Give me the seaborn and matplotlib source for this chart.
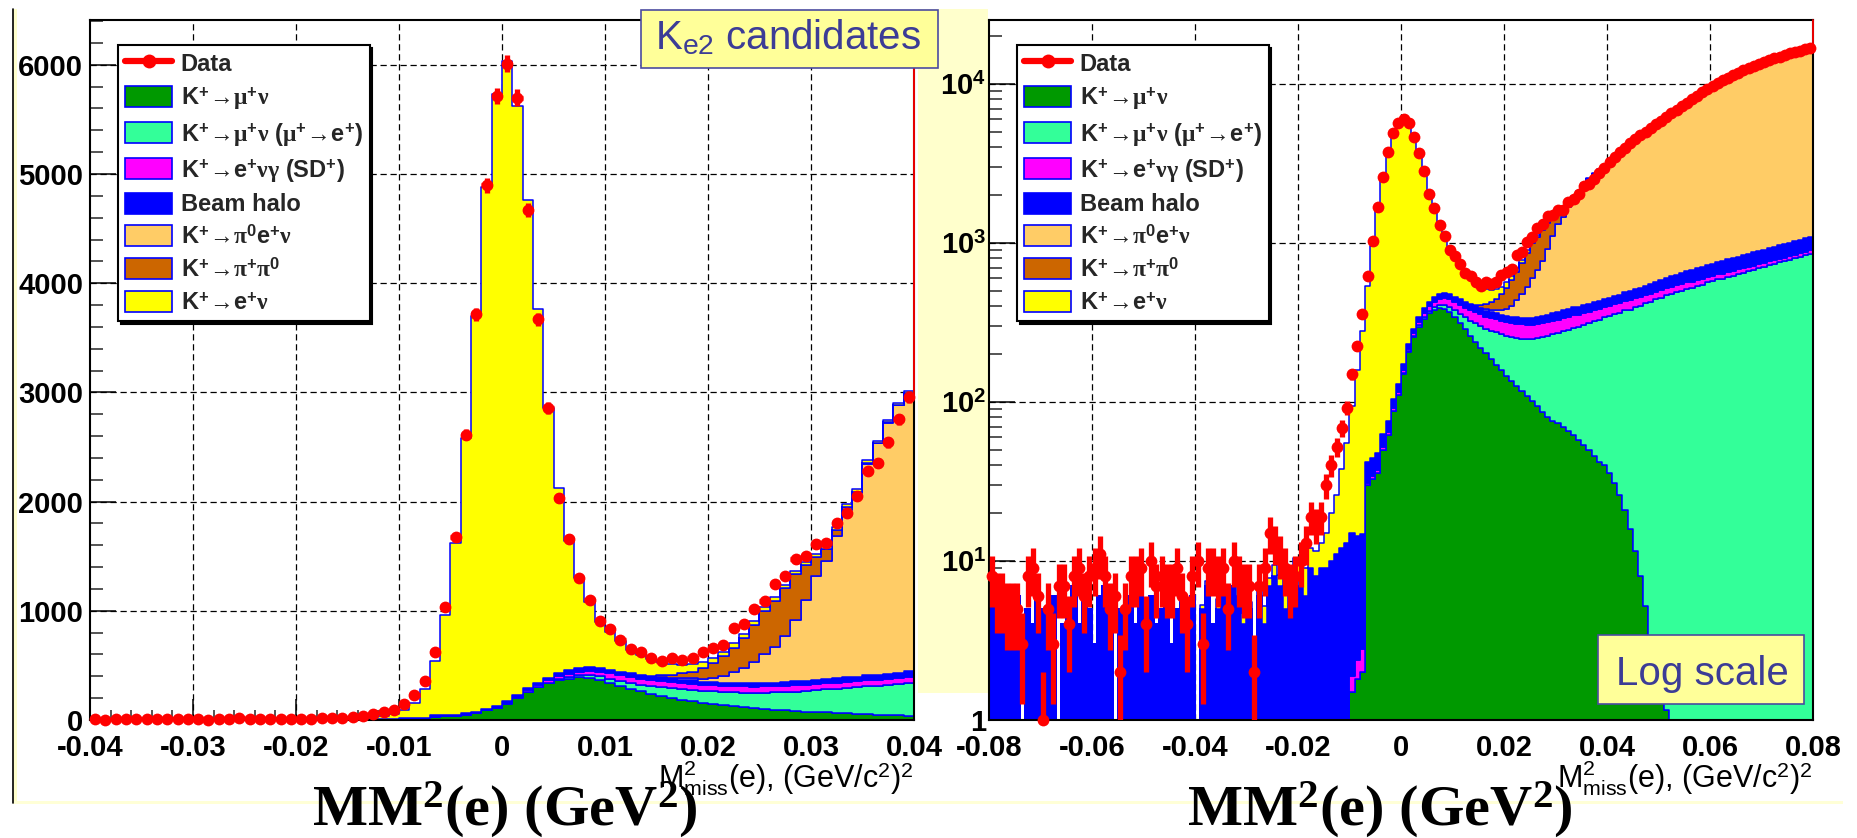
import numpy as np
import pandas as pd
import matplotlib
matplotlib.use("Agg")
import matplotlib.pyplot as plt
from matplotlib.patches import Rectangle, Patch
from matplotlib.lines import Line2D
from matplotlib.ticker import MultipleLocator, LogLocator, FuncFormatter, NullFormatter
import seaborn as sns

# ---------------- binning of the missing-mass spectrum ----------------
MM2_LOW, MM2_HIGH, BIN_WIDTH = -0.08, 0.08, 0.001

# ---------------- observed events per bin ----------------
DATA = [8, 6, 6, 5, 5, 5, 3, 8, 9, 6,
        1, 5, 3, 7, 7, 4, 8, 9, 6, 8,
        9, 11, 8, 5, 6, 2, 5, 8, 8, 9,
        4, 10, 7, 8, 7, 7, 9, 6, 4, 8,
        10, 3, 9, 9, 8, 9, 5, 10, 8, 7,
        7, 2, 7, 9, 15, 13, 11, 9, 7, 8,
        10, 13, 19, 17, 19, 30, 40, 52, 69, 92,
        150, 225, 360, 625, 1035, 1675, 2614, 3715, 4896, 5716,
        6010, 5700, 4670, 3670, 2860, 2030, 1660, 1300, 1100, 910,
        830, 735, 648, 620, 570, 540, 565, 550, 565, 626,
        657, 690, 843, 875, 1020, 1090, 1245, 1315, 1470, 1502,
        1616, 1620, 1802, 1894, 2049, 2281, 2352, 2545, 2754, 2955,
        3250, 3460, 3740, 3960, 4250, 4490, 4800, 5010, 5320, 5580,
        5900, 6230, 6580, 6880, 7320, 7650, 8080, 8420, 8930, 9280,
        9770, 10180, 10670, 10990, 11470, 11820, 12280, 12620, 13080, 13420,
        13830, 14170, 14580, 14880, 15270, 15580, 15930, 16170, 16520, 16760]

# ---------------- simulated components per bin ----------------
KMU2 = ([0] * 70 +
        [1.5, 1.8, 2.0, 30, 33, 36, 50, 62, 88, 110,
         150, 205, 255, 298, 335, 362, 380, 390, 386, 368,
         342, 314, 287, 262, 240, 220, 202, 186, 172, 158,
         146, 136, 126, 117, 109, 101, 94, 87, 81, 76,
         74, 70, 66, 62, 58, 54, 50, 46, 42, 40,
         36, 31, 26, 21, 16, 11.5, 8, 5.2, 3.4, 2.2,
         1.5, 1.15] +
        [0] * 28)

KMU2_MUE = ([0] * 79 +
            [1,
             2, 3, 4, 6, 8, 11, 14, 18, 24, 31,
             38, 46, 55, 63, 72, 81, 87, 95, 103, 108,
             115, 119, 128, 133, 142, 150, 158, 171, 179, 191,
             199, 211, 219, 232, 240, 253, 262, 276, 286, 301,
             311, 327, 339, 356, 366, 384, 395, 413, 424, 441,
             452, 470, 478, 494, 501, 517, 524, 540, 548, 565,
             574, 590, 598, 615, 623, 640, 649, 667, 677, 695,
             706, 724, 736, 755, 767, 788, 801, 823, 837, 859])

KE2G_SD = ([0] * 70 +
           [0.4, 0.6, 0.8, 1, 1.3, 1.6, 2, 2.5, 3.2, 4,
            6, 9, 13, 17, 22, 27, 31, 35, 39, 43,
            46, 49, 51, 53, 54, 55, 56, 56, 57, 56,
            56, 57, 56, 58, 55, 56, 57, 56, 58, 57,
            55, 56, 57, 58, 56, 57, 56, 55, 57, 56,
            56, 55, 55, 54, 54, 53, 53, 52, 52, 51,
            51, 50, 50, 49, 49, 48, 48, 47, 47, 46,
            46, 45, 45, 45, 44, 44, 44, 43, 43, 43,
            42, 42, 42, 41, 41, 41, 40, 40, 40, 40])

BEAM_HALO = [6, 4, 5, 5, 3, 6, 0, 5, 4, 6,
             5, 3, 6, 0, 4, 5, 7, 4, 6, 5,
             3, 6, 7, 5, 0, 5, 3, 6, 4, 7,
             5, 6, 4, 5, 6, 3, 5, 6, 4, 6,
             0, 5, 7, 4, 5, 6, 5, 7, 6, 4,
             5, 0, 6, 4, 7, 8, 7, 5, 6, 8,
             7, 6, 9, 8, 9, 9, 10, 11, 12, 13,
             13, 12, 12, 11, 10, 10, 11, 12, 13, 14,
             15, 16, 18, 21, 24, 27, 30, 32, 33, 34,
             34, 33, 33, 32, 32, 32, 31, 31, 30, 30,
             30, 30, 31, 31, 32, 33, 34, 35, 36, 37,
             38, 40, 41, 42, 43, 44, 45, 46, 47, 48,
             50, 53, 54, 58, 60, 62, 67, 69, 74, 76,
             81, 83, 89, 91, 97, 99, 105, 107, 113, 115,
             121, 123, 129, 131, 137, 139, 145, 147, 153, 155,
             161, 163, 169, 171, 177, 179, 185, 187, 193, 195]

KE3 = ([0] * 94 +
       [2, 5, 9, 14, 20, 28,
        38, 60, 95, 140, 190, 260, 330, 420, 560, 740,
        950, 1080, 1300, 1530, 1680, 1940, 2120, 2300, 2450, 2545,
        2735, 2930, 3195, 3400, 3675, 3900, 4190, 4380, 4670, 4910,
        5210, 5520, 5850, 6130, 6550, 6860, 7270, 7590, 8080, 8410,
        8870, 9260, 9730, 10030, 10490, 10820, 11250, 11570, 12000, 12320,
        12710, 13020, 13410, 13690, 14050, 14330, 14660, 14870, 15200, 15410])

KPI2 = ([0] * 93 +
        [2, 5, 15, 30, 45, 62, 100,
         140, 180, 225, 270, 340, 400, 420, 440, 420, 320,
         180, 110, 60, 30, 15, 8, 4, 2, 1, 0] +
        [0] * 40)

KE2 = ([0] * 40 +
       [0, 0.3, 0.5, 0, 0.8, 0.5, 0.6, 0, 1, 0.7,
        0.5, 0.8, 1, 1.2, 0.8, 1.5, 1.2, 1.5, 2, 2.5,
        2.5, 3, 3, 3.5, 4, 6, 10, 15, 26, 42,
        80, 145, 265, 498, 916, 1572, 2517, 3623, 4776, 5601,
        5857, 5387, 4470, 3418, 2471, 1694, 1185, 825, 598, 425,
        350, 278, 214, 187, 155, 123, 99, 78, 67, 50,
        45, 42, 40, 38, 36, 34, 32, 31, 30, 29,
        28, 27, 26, 25, 24, 23, 22, 21, 20, 19,
        18, 18, 17, 17, 16, 16, 15, 15, 14, 14,
        13, 13, 12, 12, 12, 11, 11, 11, 10, 10,
        10, 9, 9, 9, 9, 8, 8, 8, 8, 7,
        7, 7, 7, 7, 6, 6, 6, 6, 6, 6])

CHANNELS = {
    "kmu2": KMU2, "kmu2_mue": KMU2_MUE, "sd": KE2G_SD, "halo": BEAM_HALO,
    "ke3": KE3, "kpi2": KPI2, "ke2": KE2,
}
PALETTE = {
    "kmu2": "#009900", "kmu2_mue": "#33FF99", "sd": "#FF00FF", "halo": "#0000FF",
    "ke3": "#FFCC66", "kpi2": "#CC6600", "ke2": "#FFFF00",
}
ARROW = r"\!\mathrm{\rightarrow}\!"
LABELS = {
    "kmu2": r"K$^{\mathregular{+}}" + ARROW + r"\mathrm{\mu}^{\mathregular{+}}\mathrm{\nu}$",
    "kmu2_mue": r"K$^{\mathregular{+}}" + ARROW + r"\mathrm{\mu}^{\mathregular{+}}\mathrm{\nu}$ ($\mathrm{\mu}^{\mathregular{+}}" + ARROW + r"$e$^{\mathregular{+}}$)",
    "sd": r"K$^{\mathregular{+}}" + ARROW + r"$e$^{\mathregular{+}}\mathrm{\nu\gamma}$ (SD$^{\mathregular{+}}$)",
    "halo": "Beam halo",
    "ke3": r"K$^{\mathregular{+}}" + ARROW + r"\mathrm{\pi}^{\mathregular{0}}$e$^{\mathregular{+}}\mathrm{\nu}$",
    "kpi2": r"K$^{\mathregular{+}}" + ARROW + r"\mathrm{\pi}^{\mathregular{+}}\mathrm{\pi}^{\mathregular{0}}$",
    "ke2": r"K$^{\mathregular{+}}" + ARROW + r"$e$^{\mathregular{+}}\mathrm{\nu}$",
}
LEGEND_ORDER = ["kmu2", "kmu2_mue", "sd", "halo", "ke3", "kpi2", "ke2"]
STACK_ORDER = LEGEND_ORDER[::-1]          # seaborn puts the first hue level on top
OUTLINE = "#0000FF"

# ---------------- histogram frame ----------------
n_bins = int(round((MM2_HIGH - MM2_LOW) / BIN_WIDTH))
edges = MM2_LOW + BIN_WIDTH * np.arange(n_bins + 1)
centers = edges[:-1] + BIN_WIDTH / 2
data = np.asarray(DATA, dtype=float)
for key, vals in CHANNELS.items():
    assert len(vals) == n_bins, key
assert len(data) == n_bins

mc = pd.concat(
    [pd.DataFrame({"mm2": centers, "events": np.asarray(v, float), "channel": k})
     for k, v in CHANNELS.items()],
    ignore_index=True)

# ---------------- style ----------------
sns.set_theme(style="white")
plt.rcParams.update({
    "font.weight": "bold",
    "axes.linewidth": 1.5,
    "axes.edgecolor": "black",
    "mathtext.fontset": "custom",
    "mathtext.rm": "Liberation Serif",
    "mathtext.it": "Liberation Serif:italic",
    "mathtext.bf": "Liberation Serif:bold",
    "mathtext.sf": "Liberation Sans",
})
plt.rcParams["font.family"] = ["Liberation Sans", "DejaVu Sans"]

W, H = 1858, 838
fig = plt.figure(figsize=(W / 100, H / 100), dpi=100)
fig.patch.set_facecolor("white")


def fig_box(x0, y0, x1, y1, **kw):
    """Rectangle given in pixel units measured from the top-left corner."""
    r = Rectangle((x0 / W, 1 - y1 / H), (x1 - x0) / W, (y1 - y0) / H,
                  transform=fig.transFigure, **kw)
    fig.add_artist(r)
    return r


def draw_panel(ax, x_range, y_range, log_y, x_major, x_minor, y_major=None, y_minor=None):
    if log_y:
        ax.set_yscale("log")
    sns.histplot(data=mc, x="mm2", weights="events", hue="channel",
                 hue_order=STACK_ORDER, palette=PALETTE,
                 bins=n_bins, binrange=(MM2_LOW, MM2_HIGH),
                 multiple="stack", element="step", fill=True, alpha=1,
                 edgecolor=OUTLINE, linewidth=1.1, legend=False, ax=ax)
    ax.set_xlim(*x_range)
    ax.set_ylim(*y_range)
    ax.set_xlabel("")
    ax.set_ylabel("")

    # observed points with Poisson errors
    vis = (centers > x_range[0]) & (centers < x_range[1])
    eb = ax.errorbar(centers[vis], data[vis], xerr=BIN_WIDTH / 2,
                     yerr=np.sqrt(data[vis]), fmt="o", color="#FF0000",
                     ms=8.5, mew=0, elinewidth=3.8, capsize=0, zorder=4)
    eb[0].set_clip_on(False)
    # line from the last point to the upper frame edge
    last = np.flatnonzero(vis)[-1]
    ax.plot([x_range[1], x_range[1]], [data[last], y_range[1]],
            color="#FF0000", lw=1.3, zorder=4, clip_on=False)

    # ticks
    ax.xaxis.set_major_locator(MultipleLocator(x_major))
    ax.xaxis.set_minor_locator(MultipleLocator(x_minor))
    ax.xaxis.set_major_formatter(FuncFormatter(
        lambda v, p: "0" if abs(v) < 1e-9 else f"{round(v, 4):g}"))
    if log_y:
        ax.yaxis.set_major_locator(LogLocator(base=10, numticks=10))
        ax.yaxis.set_minor_locator(LogLocator(base=10, subs=np.arange(2, 10), numticks=50))
        ax.yaxis.set_minor_formatter(NullFormatter())
        ax.yaxis.set_major_formatter(FuncFormatter(
            lambda v, p: "1" if abs(v - 1) < 1e-9 else r"10$^{\mathregular{%d}}$" % round(np.log10(v))))
        ypad = 2
    else:
        ax.yaxis.set_major_locator(MultipleLocator(y_major))
        ax.yaxis.set_minor_locator(MultipleLocator(y_minor))
        ax.yaxis.set_major_formatter(FuncFormatter(lambda v, p: f"{v:.0f}"))
        ypad = 5
    ax.tick_params(axis="x", which="major", direction="in", length=15, width=1.1,
                   pad=10, labelsize=21, bottom=True, top=False, colors="black")
    ax.tick_params(axis="x", which="minor", direction="in", length=7.5, width=1.1,
                   bottom=True, top=False)
    ax.tick_params(axis="y", which="major", direction="in", length=18.5, width=1.1,
                   pad=ypad, labelsize=21, left=True, right=False, colors="black")
    ax.tick_params(axis="y", which="minor", direction="in", length=9.3, width=1.1,
                   left=True, right=False)

    # dashed grid under the histograms
    grid_kw = dict(color="black", lw=0.9, ls=(0, (5, 3)), zorder=0.5)
    for xv in ax.xaxis.get_majorticklocs():
        if x_range[0] + 1e-9 < xv < x_range[1] - 1e-9:
            ax.axvline(xv, **grid_kw)
    for yv in ax.yaxis.get_majorticklocs():
        if y_range[0] * 1.0001 < yv < y_range[1]:
            ax.axhline(yv, **grid_kw)

    # legend
    handles = [Line2D([], [], color="#FF0000", lw=4.5, marker="o", ms=10, mew=0)]
    handles += [Patch(facecolor=PALETTE[k], edgecolor=OUTLINE, lw=1.2) for k in LEGEND_ORDER]
    labels = ["Data"] + [LABELS[k] for k in LEGEND_ORDER]
    return handles, labels


ax_lin = fig.add_axes([90 / W, 1 - 720 / H, 824 / W, 700 / H])
ax_log = fig.add_axes([989 / W, 1 - 720 / H, 824 / W, 700 / H])

for ax, rng, yr, logy, xmaj, xmin, ymaj, ymin, leg_x in [
        (ax_lin, (-0.04, 0.04), (0, 6410), False, 0.01, 0.002, 1000, 200, 118),
        (ax_log, (-0.08, 0.08), (1, 2.53e4), True, 0.02, 0.005, None, None, 1017)]:
    handles, labels = draw_panel(ax, rng, yr, logy, xmaj, xmin, ymaj, ymin)
    leg = ax.legend(handles, labels, loc="upper left",
                    bbox_to_anchor=(leg_x / W, 1 - 45 / H), bbox_transform=fig.transFigure,
                    frameon=True, fancybox=False, framealpha=1, edgecolor="black",
                    shadow={"color": "black", "alpha": 1}, borderaxespad=0,
                    borderpad=0.3, labelspacing=0.38, handlelength=2.0, handleheight=1.0,
                    handletextpad=0.35,
                    prop={"family": "Liberation Sans", "weight": "bold", "size": 17})
    leg.get_frame().set_linewidth(1.5)

# axis titles
title = r"M$^{\mathregular{2}}_{\mathregular{miss}}$(e), (GeV/c$^{\mathregular{2}}$)$^{\mathregular{2}}$"
for right_px in (914, 1813):
    fig.text(right_px / W, 1 - 788 / H, title, ha="right", va="baseline",
             fontsize=22, fontweight="normal", family="Liberation Sans", color="black")

# page decorations
fig_box(918, 9, 988, 693, facecolor="#FFFFCC", edgecolor="none", zorder=-5)
fig_box(13.5, 9, 17, 803, facecolor="#FFFFCC", edgecolor="none", zorder=-5)
fig_box(13, 801, 1843, 803.5, facecolor="#FFFFD6", edgecolor="none", zorder=-5)
fig.add_artist(Line2D([13 / W, 13 / W], [1 - 9 / H, 1 - 803 / H], color="black",
                      lw=1.2, transform=fig.transFigure))

fig_box(640.5, 9.6, 938, 68.3, facecolor="#FFFF99", edgecolor="#4B4BA0", lw=1.2, zorder=10)
fig.text(788 / W, 1 - 49 / H, r"K$_{\mathregular{e2}}$ candidates", ha="center",
         va="baseline", fontsize=29, fontweight="normal", family="Liberation Sans",
         color="#3C3C96", zorder=11)
fig_box(1597.7, 635, 1804.3, 704, facecolor="#FFFF99", edgecolor="#4B4BA0", lw=1.2, zorder=10)
fig.text(1702 / W, 1 - 685 / H, "Log scale", ha="center", va="baseline",
         fontsize=29, fontweight="normal", family="Liberation Sans",
         color="#3C3C96", zorder=11)

# slide captions under both panels
caption = r"MM$^{\mathregular{2}}$(e) (GeV$^{\mathregular{2}}$)"
for cx in (505, 1380):
    fig.text(cx / W, 1 - 826 / H, caption, ha="center", va="baseline",
             fontsize=42, fontweight="bold", family="Liberation Serif",
             color="black", zorder=12)

fig.savefig("out.png", dpi=100, facecolor="white")
